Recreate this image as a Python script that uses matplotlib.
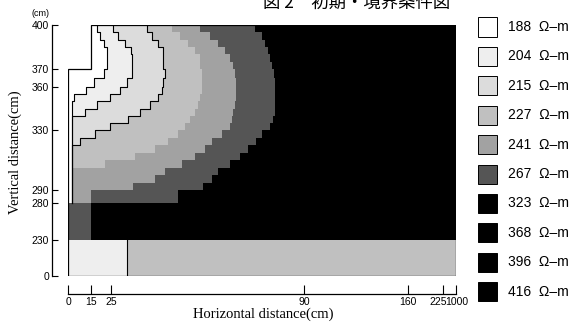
import numpy as np
import matplotlib
matplotlib.use("Agg")
import matplotlib.pyplot as plt
import matplotlib.transforms as mtrans
from matplotlib.colors import ListedColormap
from matplotlib.patches import Rectangle, Polygon

# resistivity classes (legend) and their grey levels
resist = [188, 204, 215, 227, 241, 267, 323, 368, 396, 416]
greys = ['#ffffff', '#eeeeee', '#dcdcdc', '#c0c0c0', '#a2a2a2',
         '#555555', '#000000', '#000000', '#000000', '#000000']

# upper zone rows (cm), 400 -> 280
row_edges = [400, 395, 390, 385, 380, 375, 370, 365, 360, 355, 350, 345,
             340, 335, 330, 325, 320, 315, 310, 305, 300, 295, 290, 280]

# x (cm) where each class boundary sits, per row from the top
b_188_204 = [18, 19.5, 21.5, 23, 23, 23, 21.5, 16.5, 11.7, 3.9, 2.6, 2.6,
             2.6, 2.6, 2.6, 2.6, 2.6, 2.6, 2.6, 2.6, 2.6, 2.6, 2.6]
b_204_215 = [25.7, 27.4, 29.7, 31.7, 32.1, 32.1, 32.1, 30.4, 28, 24.5, 18, 11,
             2.6, 2.6, 2.6, 2.6, 2.6, 2.6, 2.6, 2.6, 2.6, 2.6, 2.6]
b_215_227 = [37.1, 38.8, 40.8, 42.5, 42.5, 42.5, 43.2, 42.5, 42.2, 40.8, 38.1, 34.8,
             30.7, 24.5, 17, 7.8, 2.6, 2.6, 2.6, 2.6, 2.6, 2.6, 2.6]
b_227_241 = [45.5, 48.2, 50.9, 53.3, 55, 55, 55.6, 55.6, 55.6, 55, 54.3, 53.3,
             51.6, 49.9, 47.6, 44.2, 39.8, 33, 22, 2.6, 2.6, 2.6, 2.6]
b_241_267 = [55, 58.3, 61, 63.4, 65.1, 66.1, 66.8, 67.1, 67.1, 67.1, 66.8, 66.1,
             65.8, 65.1, 62.4, 59.1, 56.7, 53.3, 48.9, 43.2, 39.8, 32.4, 15]
b_267_blk = [73.5, 75.9, 76.9, 77.9, 78.6, 79.2, 79.9, 80.2, 80.2, 80.2, 80.2, 80.2,
             79.6, 78.6, 75.9, 73.8, 71.1, 68.4, 65.1, 61, 59, 56, 47.6]
bounds = [b_188_204, b_204_215, b_215_227, b_227_241, b_241_267, b_267_blk]

# lower zone: bands (cm) with a left class up to split, right class after
low_edges = [0, 230, 280]
low_split = [30.4, 15]
low_left = [204, 267]
low_right = [227, 416]

# axis ticks
xticks = [0, 15, 25, 90, 160, 225, 1000]
yticks = [0, 230, 280, 290, 330, 360, 370, 400]


def make_scale(cm, u):
    cm = np.asarray(cm, float)
    u = np.asarray(u, float)

    def conv(v, a, b):
        v = np.asarray(v, float)
        out = np.interp(v, a, b)
        out = np.where(v < a[0], b[0] + (v - a[0]) * (b[1] - b[0]) / (a[1] - a[0]), out)
        out = np.where(v > a[-1], b[-1] + (v - a[-1]) * (b[-1] - b[-2]) / (a[-1] - a[-2]), out)
        return out
    return (lambda v: conv(v, cm, u)), (lambda w: conv(w, u, cm))


# uneven grid spacing of the model, as drawn
xfwd, xinv = make_scale(xticks, [0, 23, 43, 236, 340, 375, 388])
yfwd, yinv = make_scale(yticks, [0, 36, 73, 86, 146, 189, 207, 251])

fig = plt.figure(figsize=(5.85, 3.23), dpi=100)
ax = fig.add_axes([68 / 585, 47 / 323, 388 / 585, 251 / 323])
ax.set_xscale('function', functions=(xfwd, xinv))
ax.set_yscale('function', functions=(yfwd, yinv))

# build class grid
xe = np.unique(np.concatenate([[0, 15, 1000], low_split] + [np.asarray(b) for b in bounds]))
xc = 0.5 * (xe[:-1] + xe[1:])
ye = np.array(row_edges, float)
idx = np.zeros((len(ye) - 1, len(xc)), int)
for i in range(len(ye) - 1):
    n = sum((xc > b[i]).astype(int) for b in bounds)
    idx[i] = np.where(n >= 6, 9, n)
grid = np.ma.masked_array(idx, mask=np.zeros_like(idx, bool))
yc = 0.5 * (ye[:-1] + ye[1:])
grid.mask[(yc > 370)[:, None] & (xc < 15)[None, :]] = True

cmap = ListedColormap(greys)
ax.pcolormesh(xe, ye, grid, cmap=cmap, vmin=-0.5, vmax=9.5, shading='flat')

low_grid = np.array([[resist.index(low_left[j]) if x < low_split[j] else resist.index(low_right[j])
                      for x in xc] for j in range(2)])
ax.pcolormesh(xe, low_edges, low_grid, cmap=cmap, vmin=-0.5, vmax=9.5, shading='flat')

# stepped contour lines of the light classes
tops = ye[:-1]
bots = ye[1:]
for b in bounds[:3]:
    ax.plot(np.repeat(b, 2), np.column_stack([tops, bots]).ravel(), color='k', lw=0.8)
ax.plot([low_split[0], low_split[0]], [0, 230], color='k', lw=0.8)

# domain outline
ax.add_patch(Polygon([(0, 0), (1000, 0), (1000, 400), (15, 400), (15, 370), (0, 370)],
                     closed=True, fill=False, ec='k', lw=0.9))

ax.set_xlim(0, 1000)
ax.set_ylim(0, 400)
ax.spines['top'].set_visible(False)
ax.spines['right'].set_visible(False)
ax.spines['left'].set_position(('outward', 11.5))
ax.spines['bottom'].set_position(('outward', 13))
ax.spines['left'].set_bounds(0, 400)
for s in ('left', 'bottom'):
    ax.spines[s].set_linewidth(0.9)

ax.set_xticks(xticks)
ax.set_yticks(yticks)
ax.set_xticklabels([str(v) for v in xticks])
ax.set_yticklabels([str(v) for v in yticks])
ax.tick_params(axis='y', direction='in', length=4.5, width=0.8, pad=2, labelsize=7.5)
ax.tick_params(axis='x', direction='in', length=6.5, width=0.8, pad=2, labelsize=7.5)
for lab in ax.get_xticklabels() + ax.get_yticklabels():
    lab.set_family(['Liberation Sans', 'DejaVu Sans'])
xl = ax.get_xticklabels()
xl[-2].set_horizontalalignment('right')
xl[-1].set_horizontalalignment('left')
xl[-2].set_transform(xl[-2].get_transform() + mtrans.ScaledTranslation(3.5 / 100, 0, fig.dpi_scale_trans))
xl[-1].set_transform(xl[-1].get_transform() + mtrans.ScaledTranslation(-11 / 100, 0, fig.dpi_scale_trans))

serif = ['Liberation Serif', 'DejaVu Serif']
fig.text(263 / 585, 1 - 314 / 323, 'Horizontal distance(cm)', ha='center', va='center',
         family=serif, fontsize=10.5)
fig.text(15 / 585, 1 - 152 / 323, 'Vertical distance(cm)', ha='center', va='center',
         rotation=90, family=serif, fontsize=10.5)
fig.text(40 / 585, 1 - 14 / 323, '(cm)', ha='center', va='center',
         family=['Liberation Sans', 'DejaVu Sans'], fontsize=6.5)

fig.text(357 / 585, 1 - 8 / 323, '図 2　初期・境界条件図', ha='center', va='baseline',
         family=['Noto Sans CJK JP', 'DejaVu Sans'], fontsize=12.5)

# legend
for i, (v, c) in enumerate(zip(resist, greys)):
    yc_px = 27 + 29.4 * i
    fig.add_artist(Rectangle((478 / 585, 1 - (yc_px + 9.5) / 323), 19 / 585, 19 / 323,
                             transform=fig.transFigure, fc=c, ec='k', lw=0.7))
    fig.text(508 / 585, 1 - yc_px / 323, f'{v}  Ω–m', ha='left', va='center',
             family=['Liberation Sans', 'DejaVu Sans'], fontsize=10)

fig.savefig('out.png', dpi=100)
